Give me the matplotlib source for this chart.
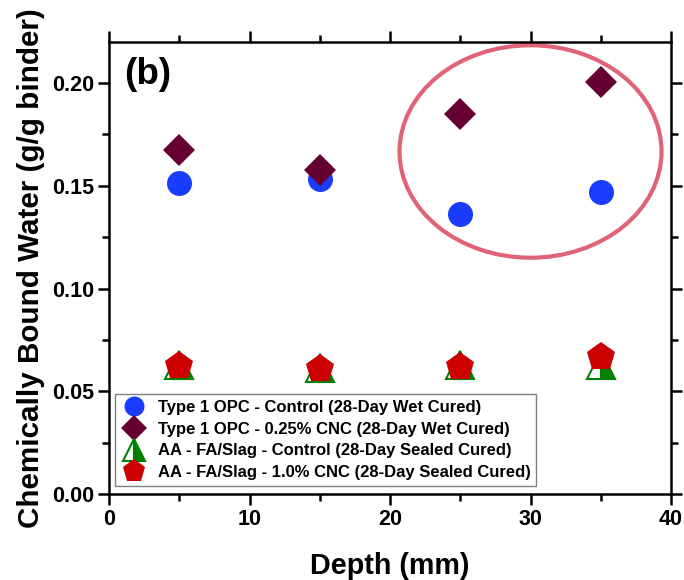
import matplotlib
matplotlib.use("Agg")
import matplotlib.pyplot as plt
from matplotlib.patches import Ellipse
from matplotlib.ticker import MultipleLocator, FormatStrFormatter

plt.rcParams['font.family'] = ['Liberation Sans', 'DejaVu Sans']
plt.rcParams['font.weight'] = 'bold'

depth = [5, 15, 25, 35]
opc_control = [0.1515, 0.1535, 0.1364, 0.1468]
opc_cnc = [0.1672, 0.1575, 0.1850, 0.2003]
aa_control = [0.0630, 0.0615, 0.0628, 0.0628]
aa_cnc = [0.0623, 0.0608, 0.0619, 0.0668]

labels = ["Type 1 OPC - Control (28-Day Wet Cured)",
          "Type 1 OPC - 0.25% CNC (28-Day Wet Cured)",
          "AA - FA/Slag - Control (28-Day Sealed Cured)",
          "AA - FA/Slag - 1.0% CNC (28-Day Sealed Cured)"]

fig = plt.figure(figsize=(6.84, 5.8), dpi=100)
ax = fig.add_axes([0.1594, 0.1483, 0.981 - 0.1594, 0.9276 - 0.1483])

ax.plot(depth, opc_control, linestyle='none', marker='o', markersize=18,
        color='#1a3cff', markeredgewidth=0, label=labels[0])
ax.plot(depth, opc_cnc, linestyle='none', marker='D', markersize=16,
        color='#660033', markeredgewidth=0, label=labels[1])
ax.plot(depth, aa_control, linestyle='none', marker='^', markersize=20,
        color='#008000', markerfacecolor='#008000', markerfacecoloralt='white',
        fillstyle='right', markeredgecolor='#008000', markeredgewidth=1.5,
        label=labels[2])
ax.plot(depth, aa_cnc, linestyle='none', marker='p', markersize=21.5,
        color='#cc0000', markeredgewidth=0, label=labels[3])

ell = Ellipse((30.0, 0.1667), 18.65, 0.1034, fill=False,
              edgecolor='#e06377', linewidth=3)
ax.add_patch(ell)

ax.set_xlim(0, 40)
ax.set_ylim(0, 0.22)
ax.xaxis.set_major_locator(MultipleLocator(10))
ax.xaxis.set_minor_locator(MultipleLocator(5))
ax.yaxis.set_major_locator(MultipleLocator(0.05))
ax.yaxis.set_minor_locator(MultipleLocator(0.025))
ax.yaxis.set_major_formatter(FormatStrFormatter('%.2f'))

for s in ax.spines.values():
    s.set_linewidth(1.8)
ax.tick_params(which='both', direction='out', top=True, right=True,
               labeltop=False, labelright=False, width=1.8)
ax.tick_params(which='major', length=8, labelsize=15.5, pad=3)
ax.tick_params(which='minor', length=5)

ax.set_xlabel("Depth (mm)", fontsize=20.7, fontweight='bold')
ax.xaxis.set_label_coords(0.5, (494 - 552) / 452, transform=ax.transAxes)
ax.set_ylabel("Chemically Bound Water (g/g binder)", fontsize=21.3,
              fontweight='bold')
ax.yaxis.set_label_coords((45 - 109) / 562, 0.5, transform=ax.transAxes)

ax.text(0.027, 0.906, "(b)", transform=ax.transAxes, fontsize=26.5,
        fontweight='bold', va='baseline', ha='left')

leg = ax.legend(loc='lower left', bbox_to_anchor=(0.011, 0.018),
                borderaxespad=0, fancybox=False, framealpha=1,
                edgecolor='#808080', prop={'size': 12.0, 'weight': 'bold'},
                handletextpad=0.6, labelspacing=0.4, borderpad=0.35,
                handlelength=1.6, markerscale=0.8)
leg.get_frame().set_linewidth(1.0)

fig.savefig("out.png", dpi=100)
